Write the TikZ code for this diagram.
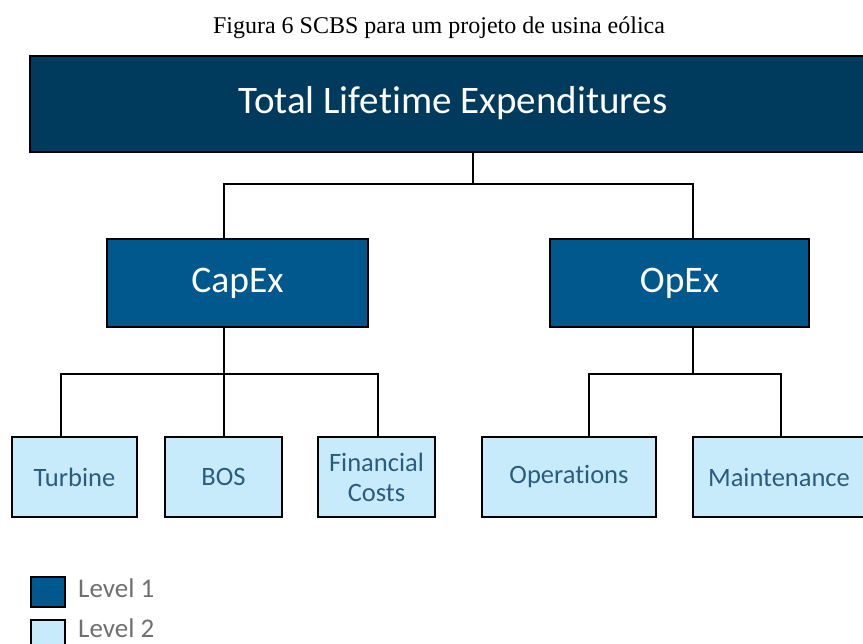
\documentclass[tikz,border=0pt]{standalone}
\usepackage{fontspec}
\setmainfont{Liberation Serif}
\newfontfamily\boxfont[Ligatures=NoCommon]{Carlito}
\definecolor{navy}{HTML}{003A5D}
\definecolor{levelone}{HTML}{00588C}
\definecolor{leveltwo}{HTML}{C8EBFC}
\definecolor{leaftext}{HTML}{2B5C7C}
\definecolor{legendtext}{HTML}{707070}
\begin{document}
\begin{tikzpicture}[x=1pt,y=-1pt,
  box/.style={draw=black,line width=2.5pt,rectangle,inner sep=0pt,align=center},
  topbox/.style={box,fill=navy,text=white,font=\boxfont\fontsize{39}{42}\selectfont},
  midbox/.style={box,fill=levelone,text=white,font=\boxfont\fontsize{37.5}{40}\selectfont,
    minimum height=88pt},
  leafbox/.style={box,fill=leveltwo,text=leaftext,font=\boxfont\fontsize{26.5}{29}\selectfont,
    minimum height=80pt},
  link/.style={draw=black,line width=2pt},
  keybox/.style={box,line width=2pt,minimum width=34pt,minimum height=30pt},
  keytext/.style={text=legendtext,font=\boxfont\fontsize{27}{29}\selectfont,anchor=west,inner sep=0pt}]
\useasboundingbox (0,0) rectangle (863,644);
\clip (0,0) rectangle (863,644);

% caption
\node[font=\fontsize{24}{28}\selectfont] (caption) at (439,28) {Figura 6 SCBS para um projeto de usina eólica};

% level 0 and level 1 boxes
\node[topbox,minimum width=860pt,minimum height=96pt] (top) at (460,104) {};
\node[text=white,font=\boxfont\fontsize{39}{42}\selectfont] (toptext) at (453,103) {Total Lifetime Expenditures};
\node[midbox,minimum width=261pt] (capex) at (237.5,283) {CapEx};
\node[midbox,minimum width=259pt] (opex) at (679.5,283) {OpEx};

% level 2 boxes
\node[leafbox,minimum width=125pt] (turbine) at (74.5,477) {Turbine};
\node[leafbox,minimum width=117pt] (bos) at (223.5,477) {BOS};
\node[leafbox,minimum width=117pt] (financial) at (376.5,477) {Financial\\[1pt]Costs};
\node[leafbox,minimum width=174pt] (operations) at (569,477) {Operations};
\node[leafbox,minimum width=172pt] (maintenance) at (779,477) {Maintenance};

% junction points of the tree
\coordinate (hub) at (473,184);
\coordinate (capx) at (224,374);
\coordinate (opx) at (693,184);
\coordinate (opbus) at (693,374);
\coordinate (tx) at (61,374);
\coordinate (fx) at (378,374);
\coordinate (ox) at (589,374);
\coordinate (mx) at (781,374);

% connectors
\draw[link] (top.south -| hub) -- (hub);
\draw[link] (capex.north -| capx) |- (hub) -- (opx) -- (opex.north -| opx);
\draw[link] (capex.south -| capx) -- (capx);
\draw[link] (turbine.north -| tx) -- (tx) -- (fx) -- (financial.north -| fx);
\draw[link] (bos.north -| capx) -- (capx);
\draw[link] (opex.south -| opbus) -- (opbus);
\draw[link] (operations.north -| ox) -- (ox) -- (mx) -- (maintenance.north -| mx);

% legend
\node[keybox,fill=levelone] (key1) at (47.5,592) {};
\node[keytext] (key1text) at (78,588) {Level 1};
\node[keybox,fill=leveltwo] (key2) at (47.5,635) {};
\node[keytext] (key2text) at (78,628) {Level 2};
\end{tikzpicture}
\end{document}
